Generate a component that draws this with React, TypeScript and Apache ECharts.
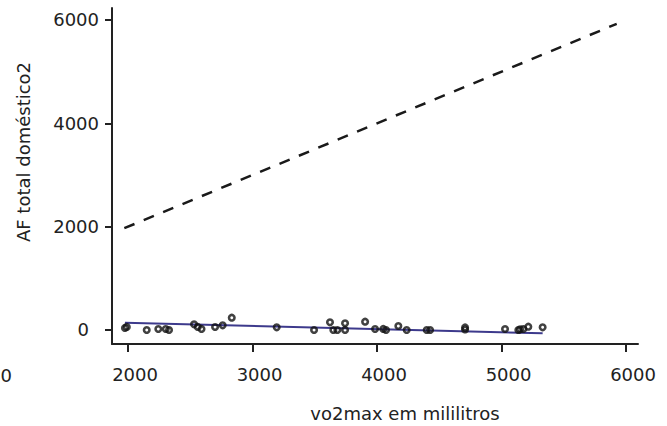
import React, { useEffect, useRef } from "react";
import * as echarts from "echarts";

// Observed points: [vo2max (ml), AF total doméstico2]
const vo2max = [1975, 1990, 2150, 2243, 2303, 2329, 2530, 2560, 2590, 2699, 2760, 2833, 3194, 3494, 3622, 3649, 3681, 3743, 3743, 3904, 3984, 4050, 4072, 4171, 4238, 4399, 4426, 4707, 4707, 5028, 5135, 5149, 5175, 5215, 5330];
const afDomestico = [40, 60, 0, 19, 19, 0, 110, 60, 20, 58, 91, 238, 52, 0, 149, 0, 0, 129, 0, 161, 19, 20, 0, 77, 0, 0, 0, 50, 10, 19, 0, 13, 19, 64, 52];

// Fitted regression line endpoints
const fitX = [1975, 5330];
const fitY = [141, -64];

// Identity (y = x) reference line endpoints
const idX = [1970, 5925];

const xTicks = [2000, 3000, 4000, 5000, 6000];
const yTicks = [0, 2000, 4000, 6000];

const FONT = "DejaVu Sans";
const TXT = "#222";

export default function App() {
  const ref = useRef<HTMLDivElement>(null);
  useEffect(() => {
    document.body.style.margin = "0";
    const chart = echarts.init(ref.current!, null, { renderer: "svg" });
    const points = vo2max.map((v, i) => [v, afDomestico[i]]);
    chart.setOption({
      animation: false,
      backgroundColor: "#fff",
      grid: { left: 112, right: 29, top: 8, bottom: 82 },
      xAxis: {
        type: "value",
        min: 1871,
        max: 6096,
        splitLine: { show: false },
        axisLine: { show: true, onZero: false, lineStyle: { color: "#222", width: 2 } },
        axisTick: { show: true, customValues: xTicks, length: 8, lineStyle: { color: "#222", width: 2 } },
        axisLabel: {
          customValues: xTicks,
          margin: 21,
          color: TXT,
          fontFamily: FONT,
          fontSize: 18,
          padding: [0, 0, 0, 14],
          formatter: (v: number) => String(v),
        },
      },
      yAxis: {
        type: "value",
        min: -271,
        max: 6232,
        splitLine: { show: false },
        axisLine: { show: true, onZero: false, lineStyle: { color: "#222", width: 2 } },
        axisTick: { show: true, customValues: yTicks, length: 7, lineStyle: { color: "#222", width: 2 } },
        axisLabel: {
          customValues: yTicks,
          margin: 13,
          color: TXT,
          fontFamily: FONT,
          fontSize: 18,
          formatter: (v: number) => (v === 0 ? "{z|0}" : String(v)),
          rich: { z: { padding: [0, 10, 0, 0], fontFamily: FONT, fontSize: 18, color: TXT } },
        },
      },
      graphic: [
        {
          type: "text",
          x: 405,
          y: 413,
          style: { text: "vo2max em mililitros", fontFamily: FONT, fontSize: 18, fill: TXT, textAlign: "center", textVerticalAlign: "middle" },
        },
        {
          type: "text",
          x: 23,
          y: 152,
          rotation: Math.PI / 2,
          style: { text: "AF total doméstico2", fontFamily: FONT, fontSize: 18, fill: TXT, textAlign: "center", textVerticalAlign: "middle" },
        },
        {
          type: "text",
          x: 12,
          y: 375,
          style: { text: "0", fontFamily: FONT, fontSize: 18, fill: TXT, textAlign: "right", textVerticalAlign: "middle" },
        },
      ],
      series: [
        {
          type: "line",
          data: idX.map((v) => [v, v]),
          symbol: "none",
          lineStyle: { color: "#1a1a1a", width: 2.5, type: [11, 10] },
          z: 1,
        },
        {
          type: "line",
          data: fitX.map((v, i) => [v, fitY[i]]),
          symbol: "none",
          lineStyle: { color: "#3d3a8c", width: 2 },
          z: 2,
        },
        {
          type: "scatter",
          data: points,
          symbol: "circle",
          symbolSize: 5.5,
          itemStyle: { color: "rgba(255,255,255,0)", borderColor: "#111", borderWidth: 2.6 },
          z: 3,
        },
      ],
    });
    return () => chart.dispose();
  }, []);
  return <div ref={ref} style={{ width: 667, height: 426 }} />;
}
